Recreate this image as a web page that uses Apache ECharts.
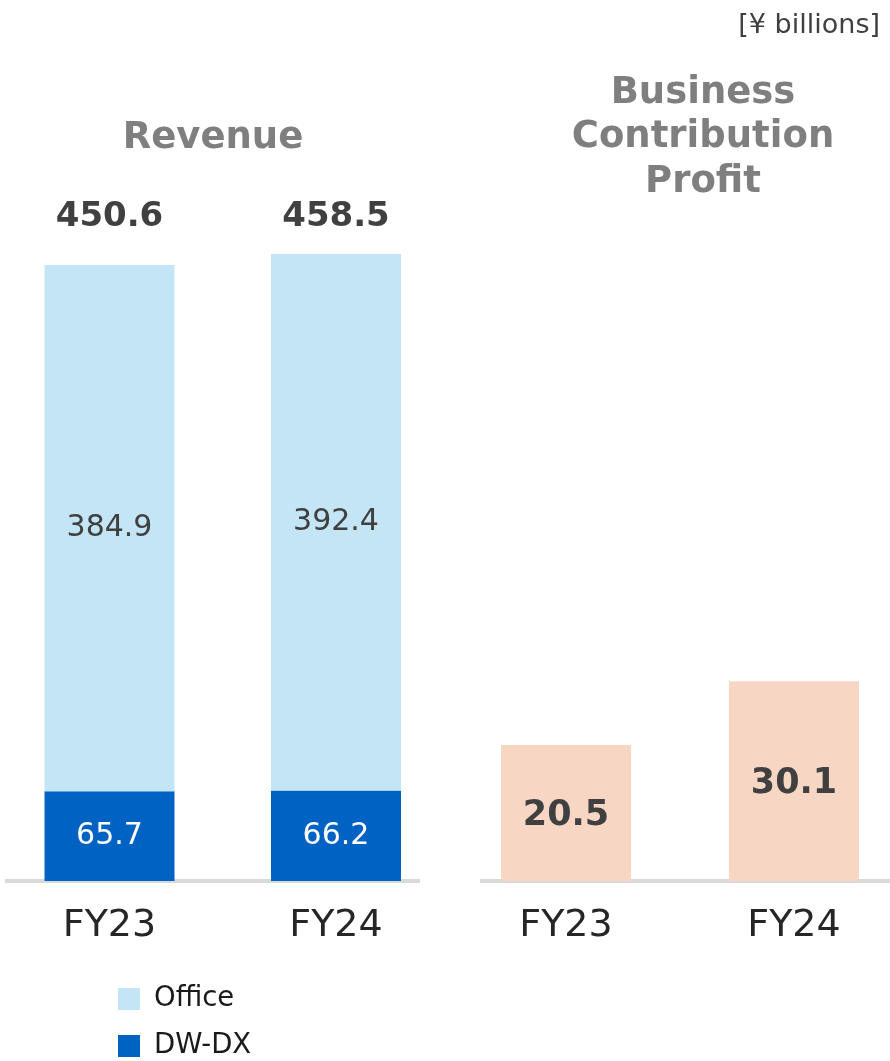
<!DOCTYPE html>
<html>
<head>
<meta charset="utf-8">
<title>Revenue / Business Contribution Profit</title>
<script src="https://cdn.jsdelivr.net/npm/echarts@6/dist/echarts.min.js"></script>
<style>
  html, body { margin: 0; padding: 0; background: #fff; }
  #chart { width: 890px; height: 1061px; }
</style>
</head>
<body>
<div id="chart"></div>
<script>
  // 数据
  var years = ['FY23', 'FY24'];
  var officeVals = [384.9, 392.4];
  var dwdxVals = [65.7, 66.2];
  var revenueTotals = ['450.6', '458.5'];
  var profitVals = [20.5, 30.1];

  var font = 'DejaVu Sans';
  var chart = echarts.init(document.getElementById('chart'));

  // 类目轴 (boundaryGap false: 类目落在网格两端)
  function catAxis(grid, pos, label) {
    return {
      type: 'category', gridIndex: grid, data: years, position: pos,
      boundaryGap: false,
      axisLine: { show: false }, axisTick: { show: false }, splitLine: { show: false },
      axisLabel: label
    };
  }

  // 图例 (每项一个, 竖排)
  function legendItem(name, top) {
    return {
      data: [name],
      left: 113, top: top,
      itemWidth: 22, itemHeight: 22,
      icon: 'rect',
      textStyle: { fontFamily: font, fontSize: 27.5, color: '#1a1a1a', padding: [0, 0, 0, 9] }
    };
  }

  var option = {
    animation: false,
    backgroundColor: '#ffffff',
    textStyle: { fontFamily: font },
    title: [
      {
        text: '[¥ billions]',
        right: 5, top: 6,
        textStyle: { fontFamily: font, fontSize: 27, fontWeight: 'normal', color: '#404040', lineHeight: 30 }
      },
      {
        text: 'Revenue',
        left: 208, top: 111, textAlign: 'center',
        textStyle: { fontFamily: font, fontSize: 37, fontWeight: 'bold', color: '#7f7f7f', lineHeight: 44 }
      },
      {
        text: 'Business\nContribution\nProfit',
        left: 698, top: 66, textAlign: 'center',
        textStyle: { fontFamily: font, fontSize: 37, fontWeight: 'bold', color: '#7f7f7f', lineHeight: 44.5 }
      }
    ],
    legend: [
      legendItem('Office', 980),
      legendItem('DW-DX', 1027)
    ],
    grid: [
      { left: 109.5, width: 226.5, top: 238.5, bottom: 180 },   // 收入
      { left: 566, width: 228, top: 217.6, bottom: 180 }        // 利润
    ],
    xAxis: [
      catAxis(0, 'bottom', { fontFamily: font, fontSize: 38, color: '#262626', margin: 26 }),
      // 顶部合计
      catAxis(0, 'top', {
        fontFamily: font, fontSize: 34, fontWeight: 'bold', color: '#404040', margin: 4,
        formatter: function (v, i) { return revenueTotals[i]; }
      }),
      catAxis(1, 'bottom', { fontFamily: font, fontSize: 38, color: '#262626', margin: 26 })
    ],
    yAxis: [
      { type: 'value', gridIndex: 0, min: 0, max: 470, show: false, splitLine: { show: false } },
      { type: 'value', gridIndex: 1, min: 0, max: 100, show: false, splitLine: { show: false } }
    ],
    graphic: [
      { type: 'rect', z: 0, shape: { x: 5, y: 879, width: 415, height: 4 }, style: { fill: '#d9d9d9' } },
      { type: 'rect', z: 0, shape: { x: 480, y: 879, width: 410, height: 4 }, style: { fill: '#d9d9d9' } }
    ],
    series: [
      {
        name: 'DW-DX', type: 'bar', stack: 'rev', clip: false,
        xAxisIndex: 0, yAxisIndex: 0,
        barWidth: 130, z: 3,
        itemStyle: { color: '#0063c4' },
        label: { show: true, position: 'inside', fontFamily: font, fontSize: 30, color: '#ffffff' },
        data: dwdxVals
      },
      {
        name: 'Office', type: 'bar', stack: 'rev', clip: false,
        xAxisIndex: 0, yAxisIndex: 0,
        barWidth: 130, z: 3,
        itemStyle: { color: '#c3e5f5' },
        label: { show: true, position: 'inside', fontFamily: font, fontSize: 30, color: '#404040' },
        data: officeVals
      },
      {
        name: 'Business Contribution Profit', type: 'bar', clip: false,
        xAxisIndex: 2, yAxisIndex: 1,
        barWidth: 130, z: 3,
        itemStyle: { color: '#f8d6c4' },
        label: { show: true, position: 'inside', offset: [0, 3], fontFamily: font, fontSize: 35, fontWeight: 'bold', color: '#404040' },
        data: profitVals
      }
    ]
  };
  chart.setOption(option);
</script>
</body>
</html>
